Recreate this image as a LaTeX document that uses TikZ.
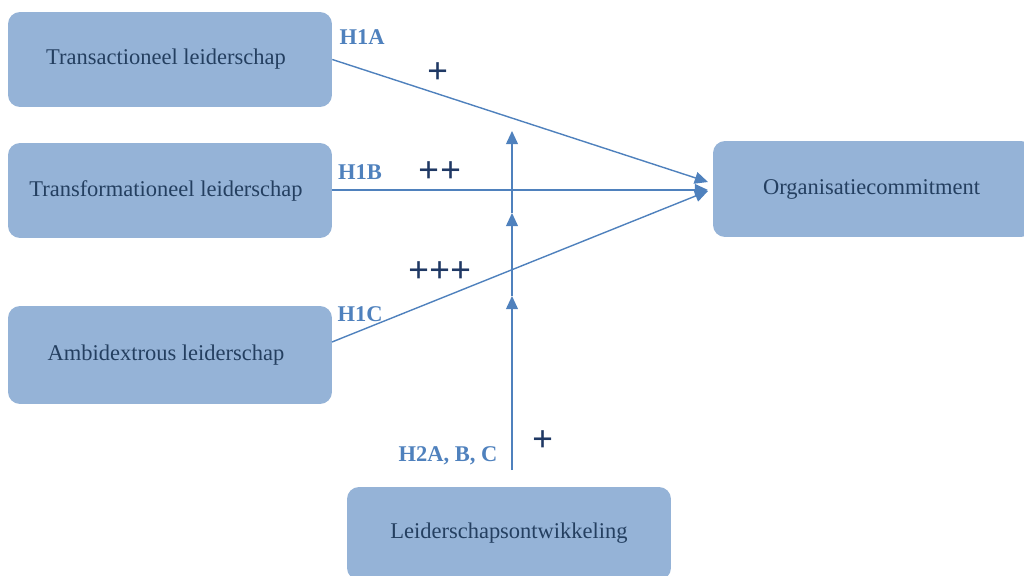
\documentclass[tikz,border=0pt]{standalone}
\usepackage{fontspec}
\setmainfont{Liberation Serif}
\usetikzlibrary{arrows.meta}
\definecolor{boxblue}{HTML}{95B3D7}
\definecolor{boxtext}{HTML}{243F60}
\definecolor{linkblue}{HTML}{4F81BD}
\definecolor{plusblue}{HTML}{1F3864}
\tikzset{
	factor/.style={fill=boxblue,rounded corners=0.24cm,minimum width=6.48cm,minimum height=1.9cm,inner sep=0pt,text=boxtext,font=\fontsize{12.8}{15}\selectfont},
	link/.style={draw=linkblue,line width=0.8pt,-{Triangle[length=7.5pt,width=6.8pt]}},
	hyp/.style={text=linkblue,font=\fontsize{12.8}{15}\selectfont\bfseries},
	sign/.style={text=plusblue,font=\fontsize{21}{23}\selectfont\bfseries}
}
\begin{document}
\begin{tikzpicture}[x=0.02cm,y=-0.02cm]
	\useasboundingbox (0,0) rectangle (1024,575);
	\clip (0,0) rectangle (1024,575);
	% predictors
	\node[factor] (tact) at (170,59.5) {\hspace*{-0.16cm}\raisebox{-0.06cm}{Transactioneel leiderschap}};
	\node[factor] (tform) at (170,190.5) {\hspace*{-0.16cm}Transformationeel leiderschap};
	\node[factor,minimum height=1.96cm] (ambi) at (170,355) {\hspace*{-0.16cm}Ambidextrous leiderschap};
	% outcome and moderator
	\node[factor,minimum width=6.4cm,minimum height=1.92cm] (org) at (873,189) {\hspace*{-0.06cm}\raisebox{0.04cm}{Organisatiecommitment}};
	\node[factor,minimum height=1.86cm] (ontw) at (509,533.5) {\raisebox{-0.03cm}{Leiderschapsontwikkeling}};
	% arrow tips at the outcome
	\coordinate (in1) at (708,182);
	\coordinate (in2) at (708,190);
	\coordinate (in3) at (708,191);
	\coordinate (out3) at (332,342);
	\draw[link] (tact.east) -- (in1);
	\draw[link] (tform.east |- in2) -- (in2);
	\draw[link] (out3) -- (in3);
	% moderation line
	\coordinate (mod0) at (512,470);
	\coordinate (mod1) at (512,296);
	\coordinate (mod2) at (512,213);
	\coordinate (mod3) at (512,131);
	\draw[link] (mod0) -- (mod1);
	\draw[link] (mod1) -- (mod2);
	\draw[link] (mod2) -- (mod3);
	% labels
	\node[hyp] (h1a) at (362,37) {H1A};
	\node[hyp] (h1b) at (360,172) {H1B};
	\node[hyp] (h1c) at (360,314) {H1C};
	\node[hyp] (h2) at (448,456) {H2A, B, C};
	\node[sign] (s1) at (438,73) {+};
	\node[sign] (s2) at (440,172) {++};
	\node[sign] (s3) at (440,272) {+++};
	\node[sign] (s4) at (543,441) {+};
\end{tikzpicture}
\end{document}
